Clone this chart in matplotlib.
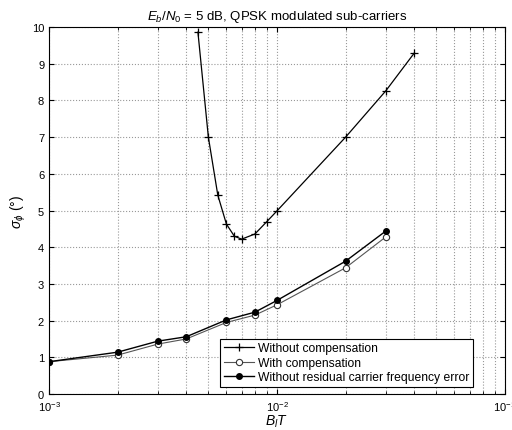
import matplotlib
matplotlib.use("Agg")
import matplotlib.pyplot as plt
from matplotlib.ticker import LogLocator, NullFormatter

plt.rcParams["font.family"] = ["Liberation Sans", "DejaVu Sans"]
plt.rcParams["mathtext.fontset"] = "custom"
plt.rcParams["mathtext.rm"] = "Liberation Sans"
plt.rcParams["mathtext.it"] = "Liberation Sans:italic"

# Without compensation
bt_nocomp = [4.5e-3, 5e-3, 5.5e-3, 6e-3, 6.5e-3, 7e-3, 8e-3, 9e-3, 1e-2, 2e-2, 3e-2, 4e-2]
sig_nocomp = [9.86, 7.0, 5.42, 4.63, 4.30, 4.22, 4.36, 4.69, 4.99, 7.0, 8.26, 9.29]

# With compensation / without residual carrier frequency error
bt = [1e-3, 2e-3, 3e-3, 4e-3, 6e-3, 8e-3, 1e-2, 2e-2, 3e-2]
sig_comp = [0.88, 1.06, 1.36, 1.50, 1.95, 2.15, 2.43, 3.44, 4.28]
sig_nores = [0.88, 1.14, 1.44, 1.56, 2.02, 2.23, 2.55, 3.62, 4.44]

fig = plt.figure(figsize=(5.12, 4.31), dpi=100)
ax = fig.add_axes([0.0957, 0.0835, 0.8906, 0.8515])

ax.plot(bt_nocomp, sig_nocomp, color="black", lw=0.9, marker="+", ms=6, mew=0.9,
        label="Without compensation")
ax.plot(bt, sig_comp, color="#555555", lw=0.8, marker="o", ms=4.5, mfc="white",
        mec="#333333", mew=0.8, label="With compensation")
ax.plot(bt, sig_nores, color="black", lw=1.0, marker="o", ms=4, mfc="black",
        mec="black", label="Without residual carrier frequency error")

ax.set_xscale("log")
ax.set_xlim(1e-3, 1e-1)
ax.set_ylim(0, 10)
ax.set_yticks(range(0, 11))
ax.xaxis.set_minor_locator(LogLocator(base=10, subs=range(2, 10)))
ax.xaxis.set_minor_formatter(NullFormatter())
ax.tick_params(which="both", direction="in", labelsize=8, top=True, right=True)
ax.grid(which="both", axis="x", linestyle=":", color="#999999", lw=0.8)
ax.grid(which="major", axis="y", linestyle=":", color="#999999", lw=0.8)

ax.set_title(r"$E_b/N_0$ = 5 dB, QPSK modulated sub-carriers", fontsize=9.5, pad=6)
ax.set_xlabel(r"$B_lT$", fontsize=10, labelpad=0)
ax.set_ylabel(r"$\sigma_\phi$ (°)", fontsize=10)
ax.yaxis.set_label_coords(-0.045, 0.5)

leg = ax.legend(loc="lower left", bbox_to_anchor=(0.362, 0.003), fontsize=8.7,
                fancybox=False, edgecolor="black", framealpha=1,
                borderpad=0.3, labelspacing=0.2, handlelength=2.5, handletextpad=0.3)
leg.get_frame().set_linewidth(0.8)

fig.savefig("out.png", dpi=100)
